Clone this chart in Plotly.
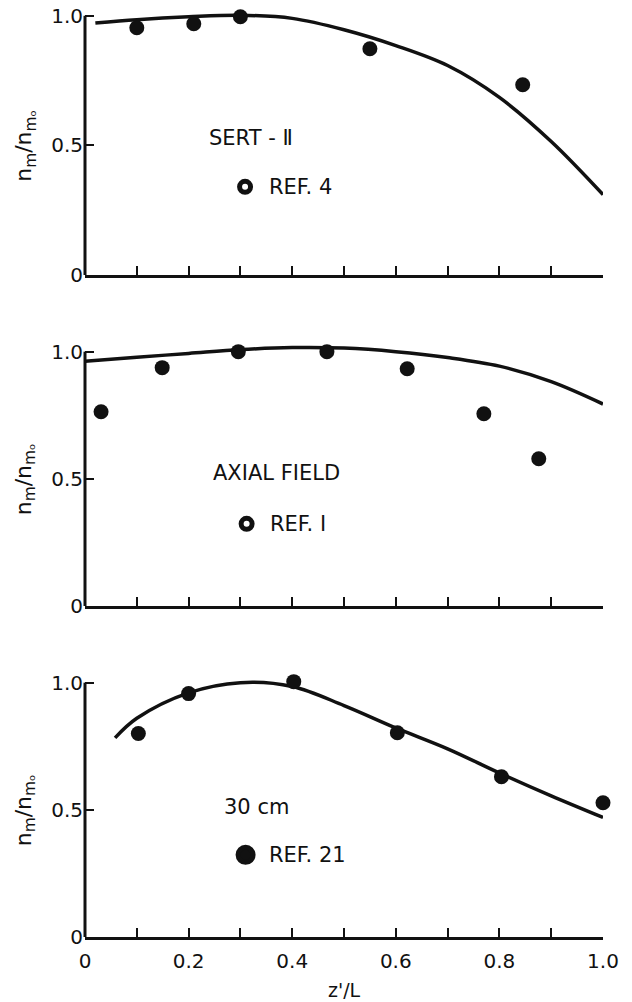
import plotly.graph_objects as go
from plotly.subplots import make_subplots

# panel 1: SERT-II
sert_pts_x = [0.10, 0.21, 0.30, 0.55, 0.845]
sert_pts_y = [0.954, 0.969, 0.996, 0.873, 0.734]
sert_curve_x = [0.02, 0.1, 0.2, 0.3, 0.4, 0.5, 0.6, 0.7, 0.8, 0.9, 1.0]
sert_curve_y = [0.972, 0.985, 0.996, 1.002, 0.99, 0.946, 0.885, 0.808, 0.685, 0.515, 0.31]

# panel 2: axial field
axial_pts_x = [0.031, 0.149, 0.296, 0.467, 0.622, 0.77, 0.876]
axial_pts_y = [0.764, 0.937, 1.0, 1.0, 0.933, 0.756, 0.579]
axial_curve_x = [0.0, 0.1, 0.2, 0.3, 0.4, 0.5, 0.6, 0.7, 0.8, 0.9, 1.0]
axial_curve_y = [0.962, 0.978, 0.993, 1.008, 1.016, 1.014, 1.0, 0.977, 0.943, 0.882, 0.794]

# panel 3: 30 cm
cm30_pts_x = [0.103, 0.20, 0.403, 0.603, 0.804, 1.0]
cm30_pts_y = [0.80, 0.957, 1.004, 0.803, 0.63, 0.528]
cm30_curve_x = [0.058, 0.1, 0.2, 0.3, 0.4, 0.5, 0.6, 0.7, 0.8, 0.9, 1.0]
cm30_curve_y = [0.783, 0.86, 0.96, 1.0, 0.985, 0.91, 0.822, 0.74, 0.645, 0.555, 0.47]

panel_labels = ["SERT - Ⅱ", "AXIAL FIELD", "30 cm"]
ref_labels = ["REF. 4", "REF. I", "REF. 21"]

x_ticks = [0.0, 0.1, 0.2, 0.3, 0.4, 0.5, 0.6, 0.7, 0.8, 0.9, 1.0]
x_ticktext = ["0", "", "0.2", "", "0.4", "", "0.6", "", "0.8", "", "1.0"]
y_ticks = [0, 0.5, 1.0]
y_ticktext = ["0", "0.5", "1.0"]

FONT = "DejaVu Sans"
INK = "#111111"

fig = make_subplots(rows=3, cols=1, vertical_spacing=0.05)

panels = [
    (sert_pts_x, sert_pts_y, sert_curve_x, sert_curve_y),
    (axial_pts_x, axial_pts_y, axial_curve_x, axial_curve_y),
    (cm30_pts_x, cm30_pts_y, cm30_curve_x, cm30_curve_y),
]

for i, (px, py, cx, cy) in enumerate(panels):
    row = i + 1
    fig.add_trace(go.Scatter(
        x=cx, y=cy, mode="lines",
        line=dict(color=INK, width=3.5, shape="spline", smoothing=1.0),
        showlegend=False, hoverinfo="skip",
    ), row=row, col=1)
    fig.add_trace(go.Scatter(
        x=px, y=py, mode="markers",
        marker=dict(color=INK, size=15),
        cliponaxis=False, showlegend=False,
    ), row=row, col=1)

# y domains in paper fractions (pixel-matched)
domains = [[0.7126, 1.0], [0.3563, 0.6383], [0.0, 0.282]]
label_pos = [(0.32, 0.53), (0.369, 0.524), (0.331, 0.512)]
ref_pos = [(0.309, 0.34), (0.312, 0.323), (0.31, 0.323)]

for i in range(3):
    sx = "" if i == 0 else str(i + 1)
    xr, yr = "x" + sx, "y" + sx
    fig.update_layout(**{
        "xaxis" + sx: dict(
            range=[0, 1.0], domain=[0, 1], showgrid=False, zeroline=False,
            showline=True, linecolor=INK, linewidth=3,
            ticks="inside", ticklen=9, tickwidth=2, tickcolor=INK,
            tickvals=x_ticks, ticktext=x_ticktext,
            showticklabels=(i == 2), ticklabelstandoff=4,
            tickfont=dict(family=FONT, size=20, color=INK),
        ),
        "yaxis" + sx: dict(
            range=[0, 1.03], domain=domains[i], showgrid=False, zeroline=False,
            showline=False, ticks="inside", ticklen=9, tickwidth=2, tickcolor=INK,
            tickvals=y_ticks, ticktext=y_ticktext, ticklabelstandoff=1,
            tickfont=dict(family=FONT, size=20, color=INK),
        ),
    })
    # y axis line stops at 1.0
    fig.add_shape(type="line", xref=xr + " domain", yref=yr,
                  x0=0, x1=0, y0=0, y1=1.0,
                  line=dict(color=INK, width=3))
    # y axis title
    fig.add_annotation(xref="paper", yref=yr, x=-0.115, y=0.5,
                       text="n<sub>m</sub>/n<sub>mₒ</sub>", textangle=-90,
                       showarrow=False, xanchor="center", yanchor="middle",
                       font=dict(family=FONT, size=22, color=INK))
    # panel label
    lx, ly = label_pos[i]
    fig.add_annotation(xref=xr, yref=yr, x=lx, y=ly, text=panel_labels[i],
                       showarrow=False, xanchor="center", yanchor="middle",
                       font=dict(family=FONT, size=21, color=INK))
    # legend marker + ref text
    mx, my = ref_pos[i]
    fig.add_trace(go.Scatter(
        x=[mx], y=[my], mode="markers",
        marker=dict(color=INK, size=11 if i < 2 else 15,
                    symbol="circle-open" if i < 2 else "circle",
                    line=dict(color=INK, width=5)),
        showlegend=False, hoverinfo="skip",
    ), row=i + 1, col=1)
    fig.add_annotation(xref=xr, yref=yr, x=mx + 0.042, y=my, text=ref_labels[i],
                       showarrow=False, xanchor="left", yanchor="middle",
                       font=dict(family=FONT, size=21, color=INK))

fig.add_annotation(xref="x3", yref="paper", x=0.5, y=-0.057, text="z'/L",
                   showarrow=False, xanchor="center", yanchor="middle",
                   font=dict(family=FONT, size=19, color=INK))

fig.update_layout(
    width=632, height=1002,
    margin=dict(l=85, r=29, t=8, b=65, autoexpand=False),
    paper_bgcolor="white", plot_bgcolor="white",
    showlegend=False,
)

# drop the default 8px page margin so the canvas sits at the window corner
fig.write_html("out.html", config={"displayModeBar": False},
               post_script="document.body.style.margin='0px';")
